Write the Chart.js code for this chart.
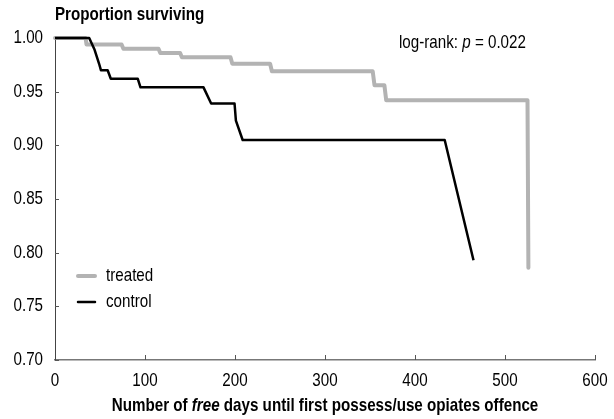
<!DOCTYPE html>
<html>
<head>
<meta charset="utf-8">
<script src="https://cdn.jsdelivr.net/npm/chart.js@4/dist/chart.umd.min.js"></script>
<style>
  html, body { margin: 0; padding: 0; background: #fff; }
  #wrap { width: 614px; height: 419px; }
</style>
</head>
<body>
<div id="wrap"><canvas id="km"></canvas></div>
<script>
// Kaplan-Meier curves, corner points
const treatedDays = [0, 34, 35, 74, 76, 115, 117, 139, 141, 195, 197, 239, 241, 353, 355, 366, 368, 525, 526];
const treatedSurv = [1.000, 1.000, 0.994, 0.994, 0.990, 0.990, 0.986, 0.986, 0.982, 0.982, 0.976, 0.976, 0.969, 0.969, 0.956, 0.956, 0.942, 0.942, 0.786];

const controlDays = [0, 38, 44, 49, 51, 58.5, 62, 92, 95, 165, 173.5, 199.5, 201, 208.5, 433, 465];
const controlSurv = [1.000, 1.000, 0.989, 0.976, 0.970, 0.970, 0.962, 0.962, 0.954, 0.954, 0.939, 0.939, 0.923, 0.905, 0.905, 0.793];

const seriesLabels = ["treated", "control"];
const xTicks = [0, 100, 200, 300, 400, 500, 600];
const yTicks = [0.70, 0.75, 0.80, 0.85, 0.90, 0.95, 1.00];

const yTitle = "Proportion surviving";
const xTitleParts = [["Number of ", false], ["free", true], [" days until first possess/use opiates offence", false]];
const noteParts = [["log-rank: ", false], ["p", true], [" = 0.022", false]];

// no narrow font installed, so Liberation Sans is squeezed sideways
const FONT = "'Liberation Sans', Arial, sans-serif";
const FS = 18.5;
const SQ = 0.82;

function toPoints(xs, ys) {
  return xs.map((x, i) => ({ x: x, y: ys[i] }));
}

function fontOf(bold, it) {
  return (it ? "italic " : "") + (bold ? "bold " : "") + FS + "px " + FONT;
}

function narrowText(ctx, text, x, y, align) {
  ctx.save();
  ctx.translate(x, y);
  ctx.scale(SQ, 1);
  ctx.textAlign = align;
  ctx.textBaseline = "middle";
  ctx.fillText(text, 0, 0);
  ctx.restore();
}

function drawParts(ctx, parts, x, y, bold, align) {
  let total = 0;
  parts.forEach(([t, it]) => { ctx.font = fontOf(bold, it); total += ctx.measureText(t).width * SQ; });
  let cx = align === "center" ? x - total / 2 : x;
  parts.forEach(([t, it]) => {
    ctx.font = fontOf(bold, it);
    narrowText(ctx, t, cx, y, "left");
    cx += ctx.measureText(t).width * SQ;
  });
}

// tick labels, titles, note, inward tick marks and the small legend
const extras = {
  id: "extras",
  afterDraw(chart) {
    const ctx = chart.ctx;
    const area = chart.chartArea;
    const xs = chart.scales.x, ys = chart.scales.y;
    ctx.save();
    ctx.fillStyle = "#000";

    ctx.font = fontOf(false, false);
    xs.ticks.forEach((t) => narrowText(ctx, String(t.value), xs.getPixelForValue(t.value), 381, "center"));
    ys.ticks.forEach((t) => narrowText(ctx, t.value.toFixed(2), 43, ys.getPixelForValue(t.value), "right"));

    ctx.font = fontOf(true, false);
    narrowText(ctx, yTitle, area.left, 15, "left");

    drawParts(ctx, noteParts, 399, 43, false, "left");
    drawParts(ctx, xTitleParts, (area.left + area.right) / 2, 406, true, "center");

    // tick marks pointing into the plot
    ctx.strokeStyle = "#555";
    ctx.lineWidth = 1;
    ctx.beginPath();
    xTicks.slice(1).forEach((v) => {
      const px = Math.round(xs.getPixelForValue(v)) + 0.5;
      ctx.moveTo(px, area.bottom);
      ctx.lineTo(px, area.bottom - 5);
    });
    yTicks.slice(0, -1).forEach((v) => {
      const py = Math.round(ys.getPixelForValue(v)) + 0.5;
      ctx.moveTo(area.left, py);
      ctx.lineTo(area.left + 4, py);
    });
    ctx.stroke();

    // legend
    chart.data.datasets.forEach((ds, i) => {
      const y = 276 + i * 26;
      ctx.strokeStyle = ds.borderColor;
      ctx.lineWidth = ds.borderWidth;
      ctx.lineCap = "round";
      ctx.beginPath();
      ctx.moveTo(78, y);
      ctx.lineTo(95, y);
      ctx.stroke();
      ctx.font = fontOf(false, false);
      ctx.fillStyle = "#000";
      narrowText(ctx, ds.label, 106, y, "left");
    });
    ctx.restore();
  }
};

new Chart(document.getElementById("km"), {
  type: "line",
  data: {
    datasets: [
      {
        label: seriesLabels[0],
        data: toPoints(treatedDays, treatedSurv),
        borderColor: "#b3b3b3",
        borderWidth: 4,
        borderCapStyle: "round",
        borderJoinStyle: "round",
        pointRadius: 0,
        tension: 0,
        order: 2,
        clip: false,
      },
      {
        label: seriesLabels[1],
        data: toPoints(controlDays, controlSurv),
        borderColor: "#000",
        borderWidth: 2.5,
        borderJoinStyle: "round",
        pointRadius: 0,
        tension: 0,
        order: 1,
        clip: false,
      },
    ],
  },
  options: {
    responsive: true,
    maintainAspectRatio: false,
    animation: false,
    layout: { padding: { left: 0, right: 19, top: 38, bottom: 0 } },
    plugins: { legend: { display: false }, tooltip: { enabled: false } },
    scales: {
      x: {
        type: "linear",
        min: 0,
        max: 600,
        afterFit: (s) => { s.height = 59; s.paddingLeft = 0; s.paddingRight = 0; },
        afterBuildTicks: (s) => { s.ticks = xTicks.map((v) => ({ value: v })); },
        ticks: { display: false },
        grid: { display: false },
        border: { display: true, color: "#777", width: 1.5 },
      },
      y: {
        min: 0.7,
        max: 1.0,
        afterFit: (s) => { s.width = 55; s.paddingTop = 0; s.paddingBottom = 0; },
        afterBuildTicks: (s) => { s.ticks = yTicks.map((v) => ({ value: v })); },
        ticks: { display: false },
        grid: { display: false },
        border: { display: true, color: "#444", width: 1 },
      },
    },
  },
  plugins: [extras],
});
</script>
</body>
</html>
